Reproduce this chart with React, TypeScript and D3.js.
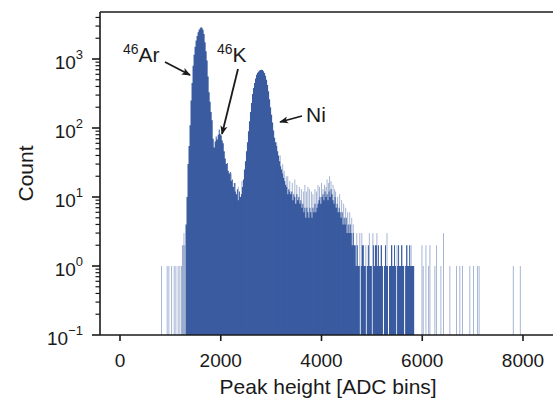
import React from "react";
import * as d3 from "d3";

// ---- data ----
const binStart = 1300;
const binWidth = 20;
// counts per 20-ADC bin, from 1300 upward
const denseCounts = [
  4, 10, 30, 55, 110, 250, 450, 800, 1150, 1500, 1850, 2150, 2450, 2650, 2800, 2900,
  2820, 2650, 2300, 1750, 1300, 950, 560, 330, 240, 170, 130, 70, 52, 64, 75, 68,
  80, 95, 82, 78, 66, 60, 46, 36, 30, 31, 24, 22, 23, 17, 18, 14, 16, 12, 11, 13,
  9, 12, 10, 11, 14, 18, 25, 33, 46, 62, 90, 125, 170, 230, 310, 380, 450, 520,
  590, 630, 660, 680, 690, 700, 690, 665, 625, 570, 500, 420, 340, 260, 200, 155,
  120, 92, 72, 62, 55, 46, 40, 33, 28, 25, 22, 19, 17, 15, 14, 11, 13, 12,
  // tail 3380..4660
  11, 12, 9, 11, 10, 8, 11, 9, 10, 8, 9, 7, 8, 6, 7, 5, 7, 6, 5, 7, 6, 5, 7, 6, 8,
  6, 7, 8, 9, 10, 8, 10, 11, 9, 12, 10, 11, 9, 12, 10, 13, 11, 9, 8, 10, 7, 8, 6,
  7, 6, 5, 6, 4, 5, 4, 5, 3, 4, 3, 4, 3, 2, 3, 2, 2,
  // 4680..5820
  1, 2, 1, 1, 0, 1, 2, 2, 1, 1, 0, 1, 2, 1, 1, 1, 0, 2, 1, 2, 2, 1, 2, 1, 1, 2, 1,
  0, 1, 2, 1, 1, 0, 1, 1, 2, 1, 1, 2, 1, 0, 1, 2, 1, 1, 2, 1, 1, 0, 1, 2, 1, 1, 2,
  1, 1, 1, 1,
];
// isolated single-bin entries outside the dense region: [ADC, count]
const sparseEvents: [number, number][] = [
  [825, 1], [937, 1], [970, 1], [1023, 1], [1076, 1], [1109, 1], [1155, 1], [1188, 1],
  [1221, 1], [1240, 2], [1255, 2], [1270, 3], [1285, 2],
  [5994, 2], [6020, 1], [6073, 2], [6125, 1], [6152, 2], [6251, 1], [6284, 2],
  [6370, 1], [6422, 3], [6548, 1], [6680, 1], [6746, 1], [6799, 1], [6944, 1],
  [7017, 1], [7096, 1], [7129, 1], [7808, 1], [7947, 1],
];
// tallest single bins inside the noisy tail: [ADC, count]
const tailSpikes: [number, number][] = [
  [2210, 22], [2290, 16], [2350, 14], [2420, 17],
  [3110, 62], [3180, 40], [3230, 30], [3260, 24], [3300, 20], [3330, 20], [3370, 17],
  [3420, 16], [3470, 18], [3510, 15], [3560, 14], [3600, 13], [3640, 12], [3670, 15],
  [3700, 12], [3730, 14], [3760, 13], [3800, 12], [3830, 11], [3870, 13], [3900, 12],
  [3930, 15], [3960, 14], [4000, 16], [4030, 13], [4060, 15], [4090, 14], [4110, 18],
  [4140, 16], [4160, 20], [4190, 17], [4230, 15], [4260, 13], [4280, 12], [4320, 10],
  [4360, 11], [4400, 9], [4440, 8], [4480, 7], [4520, 6], [4560, 6], [4600, 5],
  [4630, 4], [4700, 3], [4760, 3], [4800, 3], [4880, 2], [4950, 3], [5020, 3],
  [5100, 3], [5180, 2], [5300, 3], [5400, 2], [5500, 2], [5600, 2], [5700, 2], [5780, 2],
];
const xTicks = [0, 2000, 4000, 6000, 8000];
const yTickExps = [-1, 0, 1, 2, 3];
const annotations = [
  { sup: "46", main: "Ar", tx: 123, ty: 62, from: [165, 62], to: [190, 75] },
  { sup: "46", main: "K", tx: 217, ty: 62, from: [238, 69], to: [222, 134] },
  { sup: "", main: "Ni", tx: 306, ty: 122, from: [302, 116], to: [280, 122] },
];

const W = 553;
const H = 403;
const FONT = "'Liberation Sans', Arial, Helvetica, sans-serif";
const BLUE = "#3a5ba0";
const INK = "#1a1a1a";

export default function App() {
  const left = 100, top = 12, bottom = 335;
  const x = d3.scaleLinear().domain([0, 8000]).range([120, 523]);
  const xMax = 8660;
  const right = x(xMax);
  const y = d3.scaleLog().domain([0.1, 4800]).range([bottom, top]);

  const pts = denseCounts.map((c, i) => ({ x0: binStart + i * binWidth, c }));
  pts.push({ x0: binStart + denseCounts.length * binWidth, c: 0 });
  const area = d3
    .area<{ x0: number; c: number }>()
    .x((d) => x(d.x0))
    .y0(bottom)
    .y1((d) => (d.c > 0 ? y(d.c) : bottom))
    .curve(d3.curveStepAfter);

  const minor: number[] = [];
  for (let e = -1; e <= 3; e++) {
    for (let k = 2; k <= 9; k++) {
      const v = k * Math.pow(10, e);
      if (v <= 4800) minor.push(v);
    }
  }

  return (
    <svg
      width={W}
      height={H}
      style={{ position: "absolute", left: 0, top: 0, background: "#fff" }}
      fontFamily={FONT}
    >
      <defs>
        <clipPath id="plot">
          <rect x={left} y={top} width={right - left} height={bottom - top} />
        </clipPath>
        <marker id="ah" viewBox="0 0 10 10" refX="9" refY="5" markerWidth="9" markerHeight="9" markerUnits="userSpaceOnUse" orient="auto">
          <path d="M0,1 L10,5 L0,9 L2.5,5 Z" fill={INK} />
        </marker>
      </defs>
      <g clipPath="url(#plot)">
        <path d={area(pts) || ""} fill={BLUE} />
        {tailSpikes.map(([a, c], i) => (
          <line key={"s" + i} x1={x(a)} x2={x(a)} y1={bottom} y2={y(c)} stroke={BLUE} strokeOpacity={0.45} strokeWidth={1} />
        ))}
        {sparseEvents.map(([a, c], i) => (
          <line key={"e" + i} x1={x(a)} x2={x(a)} y1={bottom} y2={y(c)} stroke={BLUE} strokeOpacity={0.45} strokeWidth={1} />
        ))}
      </g>
      {/* spines */}
      <g stroke={INK} strokeWidth={1.6} fill="none">
        <line x1={left} x2={right} y1={top} y2={top} />
        <line x1={left} x2={right} y1={bottom} y2={bottom} />
        <line x1={left} x2={left} y1={top} y2={bottom} />
      </g>
      {/* y ticks */}
      {minor.map((v, i) => (
        <line key={"m" + i} x1={left - 4.5} x2={left} y1={y(v)} y2={y(v)} stroke={INK} strokeWidth={1.2} />
      ))}
      {yTickExps.map((e) => {
        const yy = y(Math.pow(10, e));
        return (
          <g key={"y" + e}>
            <line x1={left - 8} x2={left} y1={yy} y2={yy} stroke={INK} strokeWidth={1.6} />
            <text x={83} y={yy + 10} textAnchor="end" fontSize={19} fill={INK}>
              10
              <tspan dy={-10} fontSize={13}>{e < 0 ? "\u2212" + Math.abs(e) : String(e)}</tspan>
            </text>
          </g>
        );
      })}
      {/* x ticks */}
      {xTicks.map((t) => (
        <g key={"x" + t}>
          <line x1={x(t)} x2={x(t)} y1={bottom} y2={bottom + 6} stroke={INK} strokeWidth={1.6} />
          <text x={x(t)} y={367} textAnchor="middle" fontSize={19} fill={INK}>
            {t}
          </text>
        </g>
      ))}
      <text x={(left + right) / 2} y={394} textAnchor="middle" fontSize={21} fill={INK}>
        Peak height [ADC bins]
      </text>
      <text transform={`translate(33,${(top + bottom) / 2}) rotate(-90)`} textAnchor="middle" fontSize={21} fill={INK}>
        Count
      </text>
      {/* annotations */}
      {annotations.map((a, i) => (
        <g key={"a" + i}>
          <text x={a.tx} y={a.ty} fontSize={21} fill={INK}>
            {a.sup ? (
              <tspan fontSize={14} dy={-8}>{a.sup}</tspan>
            ) : null}
            <tspan dy={a.sup ? 8 : 0}>{a.main}</tspan>
          </text>
          <line x1={a.from[0]} y1={a.from[1]} x2={a.to[0]} y2={a.to[1]} stroke={INK} strokeWidth={1.8} markerEnd="url(#ah)" />
        </g>
      ))}
    </svg>
  );
}
